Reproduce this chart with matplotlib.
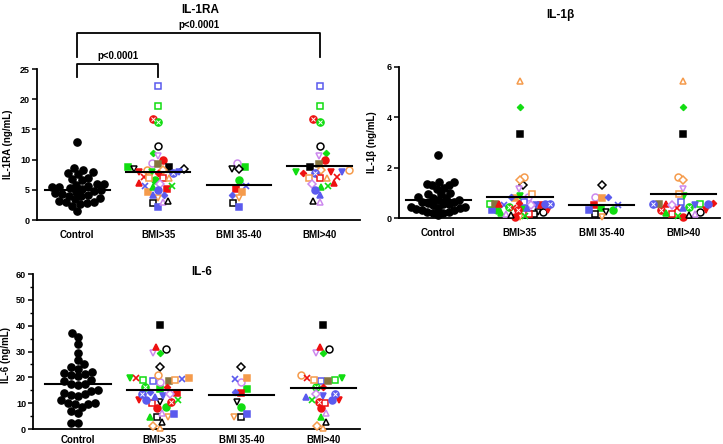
import numpy as np
import matplotlib
matplotlib.use('Agg')
import matplotlib.pyplot as plt

plt.rcParams['font.family'] = ['Liberation Sans', 'DejaVu Sans']
plt.rcParams['font.weight'] = 'bold'
plt.rcParams['axes.labelweight'] = 'bold'

groups = ['Control', 'BMI>35', 'BMI 35-40', 'BMI>40']

# control subjects
control_il1ra = [12.9, 8.6, 8.3, 7.9, 7.8, 7.6, 7.0, 6.8, 6.6, 6.0, 5.9, 5.8, 5.7, 5.5, 5.4, 5.3, 5.1,
                 4.9, 4.8, 4.6, 4.4, 4.3, 4.1, 4.0, 3.9, 3.6, 3.4, 3.1, 3.0, 2.9, 2.8, 2.6, 2.3, 1.5]
control_il1b = [2.5, 1.45, 1.42, 1.35, 1.3, 1.3, 1.2, 1.15, 1.0, 0.95, 0.95, 0.85, 0.8, 0.8, 0.7, 0.7, 0.65,
                0.65, 0.6, 0.55, 0.55, 0.5, 0.45, 0.45, 0.4, 0.4, 0.35, 0.3, 0.3, 0.25, 0.25, 0.2, 0.2, 0.1]
control_il6 = [37.3, 35.8, 33.0, 29.5, 26.7, 25.0, 24.0, 23.3, 22.0, 21.7, 21.4, 21.0, 20.5, 19.0, 18.7, 17.6, 17.4,
               17.2, 15.0, 14.8, 13.8, 13.5, 13.0, 12.8, 11.2, 10.2, 10.0, 9.8, 9.6, 8.6, 6.8, 6.2, 2.3, 2.2]

# obese patients (each one has its own symbol)
pt_group = ['35-40'] * 12 + ['>40'] * 29
pt_il1ra = [8.8, 9.5, 8.4, 8.4, 6.6, 5.7, 5.1, 4.7, 4.1, 3.7, 2.8, 2.2,
            22.2, 18.8, 16.8, 16.3, 12.3, 11.1, 10.6, 9.9, 9.3, 8.7, 8.2, 8.2, 8.0, 8.0, 7.9,
            7.8, 7.7, 7.2, 7.0, 7.0, 7.0, 6.2, 6.0, 5.5, 5.6, 4.9, 4.1, 2.9, 3.2]
pt_il1b = [0.4, 0.82, 0.25, 1.3, 0.3, 0.5, 0.5, 0.78, 0.82, 0.05, 0.15, 0.3,
           0.65, 0.56, 0.3, 0.45, 0.25, 4.42, 1.14, 0.05, 0.56, 3.32, 1.62, 1.5, 0.87, 0.5, 0.3,
           0.56, 0.6, 0.4, 0.15, 0.94, 5.45, 0.55, 0.5, 0.2, 0.08, 0.56, 0.4, 0.15, 0.12]
pt_il6 = [15.5, 18.3, 10.5, 24.0, 8.5, 19.5, 14.0, 19.7, 14.5, 4.5, 4.5, 6.0,
          18.7, 19.0, 10.6, 16.4, 30.8, 29.5, 29.6, 8.0, 18.7, 40.3, 20.9, 1.3, 19.9, 12.9, 11.3,
          13.6, 16.1, 19.6, 10.0, 19.0, 0.3, 31.9, 13.4, 4.6, 11.2, 11.2, 12.5, 6.3, 2.8]

# group means (horizontal bars)
mean_il1ra = [5.0, 8.0, 5.8, 9.0]
mean_il1b = [0.7, 0.83, 0.52, 0.95]
mean_il6 = [17.4, 15.0, 13.2, 15.8]

# symbol styles
BK, OL, RD, GN, BL, OR, VI = '#000000', '#85743f', '#ee1111', '#11dd11', '#5a5aee', '#f59b4c', '#cc88ee'
pt_marker = ['s', 'o', 'v', 'D', 'o', 'x', 's', 's', 'd', 'v', 's', 's',
             's', 's', 'ox', 'ox', 'o', 'd', 'v', 'o', 's', 's', 'o', 'D', 'v', 'v', 'v',
             'ox', 'd', 'x', 's', 's', '^', '^', 'D', '^', 'x', 'o', '^', '^', '^']
pt_color = [GN, VI, BK, BK, GN, BL, RD, OR, BL, OR, BK, BL,
            BL, GN, RD, GN, BK, GN, VI, RD, OL, BK, OR, OR, GN, BL, RD,
            BL, RD, RD, RD, OR, OR, RD, VI, GN, GN, BL, BL, VI, BK]
pt_filled = [True, False, False, False, True, True, True, True, True, False, False, True,
             False, False, True, True, False, True, False, True, True, True, False, False, True, True, True,
             True, True, True, False, False, False, True, False, True, True, True, True, False, False]


def swarm(vals, ppu, d, xppu, maxw):
    # simple beeswarm in pixels, returned in data units and squeezed to maxw
    vals = np.asarray(vals, dtype=float)
    xs = np.zeros(len(vals))
    placed = []
    for i in np.argsort(vals):
        y = vals[i] * ppu
        near = []
        cands = [0.0]
        for xj, yj in placed:
            dy = abs(y - yj)
            if dy < d:
                dx = np.sqrt(d * d - dy * dy)
                near.append((xj, dx))
                cands += [xj - dx, xj + dx]
        for c in sorted(cands, key=abs):
            if all(abs(c - xj) >= dx - 1e-6 for xj, dx in near):
                xs[i] = c
                break
        placed.append((xs[i], y))
    xs = xs / xppu
    m = np.abs(xs).max()
    if m > maxw:
        xs = xs * maxw / m
    return xs


def draw_pt(ax, x, y, m, c, filled):
    kw = dict(linestyle='none', clip_on=False, zorder=3)
    if m == 'ox':
        ax.plot(x, y, marker='o', ms=5.2, mfc=c, mec=c, mew=1, **kw)
        ax.plot(x, y, marker='x', ms=3, mec='white', mew=0.7, linestyle='none', clip_on=False, zorder=4)
    elif m == 'x':
        ax.plot(x, y, marker='x', ms=4.6, mec=c, mew=1.2, **kw)
    elif m == 'd':
        ax.plot(x, y, marker='D', ms=3.3, mfc=c, mec=c, mew=0.8, **kw)
    elif m == 'D':
        ax.plot(x, y, marker='D', ms=4.0, mfc='white', mec=c, mew=1.1, **kw)
    else:
        ax.plot(x, y, marker=m, ms=5, mfc=c if filled else 'white', mec=c, mew=1.1, **kw)


def panel(ax, ctrl, pts, means, ppu, xppu):
    xo = swarm(ctrl, ppu, 7.2, xppu, 0.33)
    ax.plot(0 + xo, ctrl, 'o', color='black', ms=5.2, clip_on=False, zorder=3)
    sel = {1: [i for i in range(len(pts))],
           2: [i for i in range(len(pts)) if pt_group[i] == '35-40'],
           3: [i for i in range(len(pts)) if pt_group[i] == '>40']}
    for g, idx in sel.items():
        v = [pts[i] for i in idx]
        xo = swarm(v, ppu, 7.0, xppu, 0.37)
        for k, i in enumerate(idx):
            draw_pt(ax, g + xo[k], pts[i], pt_marker[i], pt_color[i], pt_filled[i])
    for g, mval in enumerate(means):
        ax.plot([g - 0.4, g + 0.4], [mval, mval], color='black', lw=1.5, zorder=5)
    ax.set_xticks(range(4))
    ax.set_xticklabels(groups)
    ax.tick_params(axis='x', length=0, labelsize=7, pad=7)
    ax.tick_params(axis='y', length=3.5, width=1.1, labelsize=6.5, pad=1.5)
    ax.tick_params(axis='y', which='minor', length=2, width=1.0)
    for s in ['top', 'right']:
        ax.spines[s].set_visible(False)
    for s in ['left', 'bottom']:
        ax.spines[s].set_linewidth(1.3)


fig = plt.figure(figsize=(7.23, 4.44), dpi=100)

ax1 = fig.add_axes([37 / 723, 224 / 444, 323 / 723, 151 / 444])
ax1.set_xlim(-0.5, 3.5)
ax1.set_ylim(0, 25)
ax1.set_yticks(range(0, 26, 5))
panel(ax1, control_il1ra, pt_il1ra, mean_il1ra, 151 / 25, 80.75)
ax1.set_ylabel('IL-1RA (ng/mL)', fontsize=7)
ax1.yaxis.set_label_coords(-0.075, 0.5)
bk = dict(color='black', lw=1.3, clip_on=False)
ax1.plot([0, 0, 1, 1], [23.6, 25.8, 25.8, 23.6], **bk)
ax1.text(0.5, 26.4, 'p<0.0001', ha='center', va='bottom', fontsize=7)
ax1.plot([0, 0, 3, 3], [27.0, 30.9, 30.9, 27.0], **bk)
ax1.text(1.5, 31.5, 'p<0.0001', ha='center', va='bottom', fontsize=7)
fig.text(200 / 723, 1 - 10 / 444, 'IL-1RA', ha='center', va='center', fontsize=8.5)

ax2 = fig.add_axes([399 / 723, 226 / 444, 321 / 723, 151 / 444])
ax2.set_xlim(-0.48, 3.45)
ax2.set_ylim(0, 6)
ax2.set_yticks(range(0, 7, 2))
panel(ax2, control_il1b, pt_il1b, mean_il1b, 151 / 6, 81.7)
ax2.set_ylabel('IL-1\u03b2 (ng/mL)', fontsize=7)
ax2.yaxis.set_label_coords(-0.07, 0.5)
fig.text(560 / 723, 1 - 15 / 444, 'IL-1\u03b2', ha='center', va='center', fontsize=8.5)

ax3 = fig.add_axes([33 / 723, 15 / 444, 327 / 723, 155 / 444])
ax3.set_xlim(-0.55, 3.45)
ax3.set_ylim(0, 60)
ax3.set_yticks(range(0, 61, 10))
ax3.set_yticks(range(5, 60, 10), minor=True)
panel(ax3, control_il6, pt_il6, mean_il6, 155 / 60, 81.7)
ax3.tick_params(axis='x', pad=4)
ax3.set_ylabel('IL-6 (ng/mL)', fontsize=7)
ax3.yaxis.set_label_coords(-0.068, 0.48)
fig.text(202 / 723, 1 - 272 / 444, 'IL-6', ha='center', va='center', fontsize=8.5)

fig.savefig('out.png', dpi=100)
